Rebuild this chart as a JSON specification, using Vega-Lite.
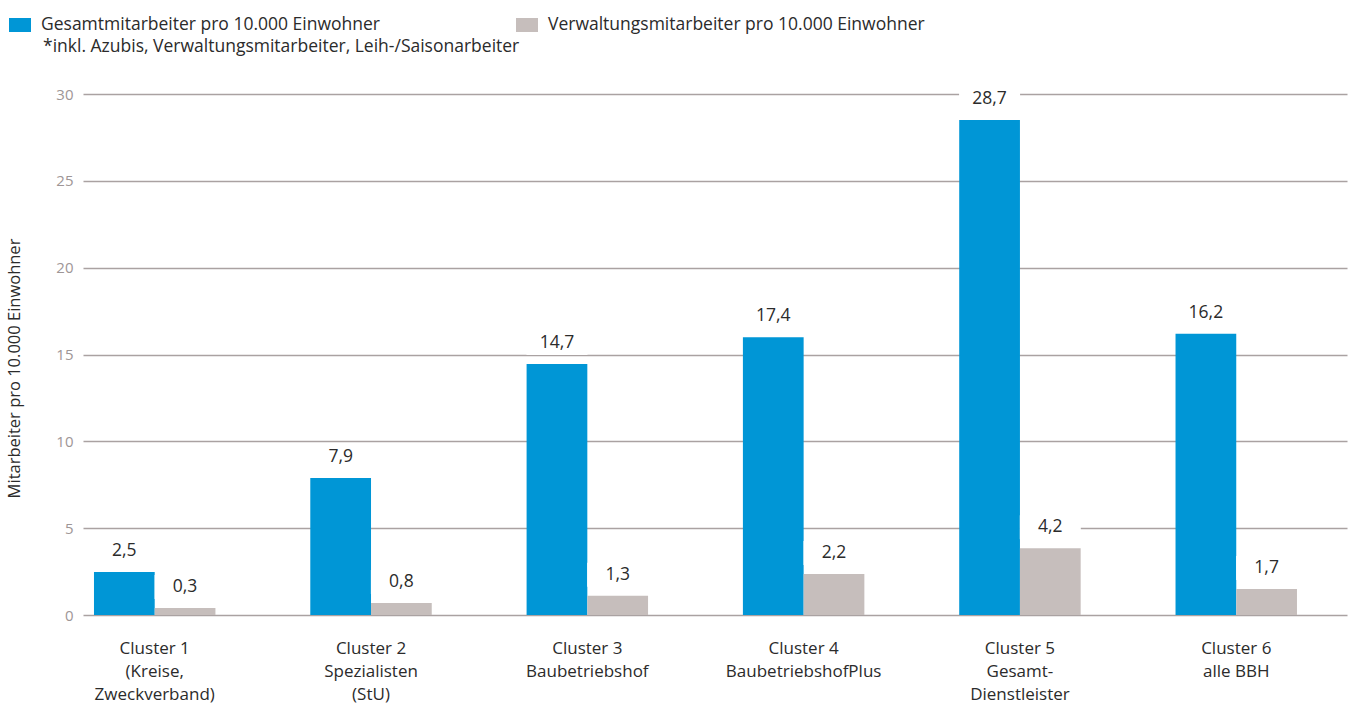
{
  "$schema": "https://vega.github.io/schema/vega-lite/v6.json",
  "width": 1264,
  "height": 521,
  "autosize": "none",
  "padding": {"left": 83, "top": 94, "right": 6, "bottom": 91},
  "background": "white",
  "config": {"font": "Open Sans", "view": {"stroke": null}},
  "title": {
    "text": "*inkl. Azubis, Verwaltungsmitarbeiter, Leih-/Saisonarbeiter",
    "anchor": "start",
    "frame": "group",
    "orient": "top",
    "fontSize": 17.5,
    "fontWeight": "normal",
    "color": "#2b2b2b",
    "dx": -40,
    "offset": -55,
    "baseline": "alphabetic"
  },
  "data": {
    "values": [
      {"cluster": "Cluster 1|(Kreise,|Zweckverband)", "series": "Gesamtmitarbeiter pro 10.000 Einwohner", "value": 2.48, "label": "2,5"},
      {"cluster": "Cluster 1|(Kreise,|Zweckverband)", "series": "Verwaltungsmitarbeiter pro 10.000 Einwohner", "value": 0.4, "label": "0,3"},
      {"cluster": "Cluster 2|Spezialisten|(StU)", "series": "Gesamtmitarbeiter pro 10.000 Einwohner", "value": 7.89, "label": "7,9"},
      {"cluster": "Cluster 2|Spezialisten|(StU)", "series": "Verwaltungsmitarbeiter pro 10.000 Einwohner", "value": 0.69, "label": "0,8"},
      {"cluster": "Cluster 3|Baubetriebshof", "series": "Gesamtmitarbeiter pro 10.000 Einwohner", "value": 14.45, "label": "14,7"},
      {"cluster": "Cluster 3|Baubetriebshof", "series": "Verwaltungsmitarbeiter pro 10.000 Einwohner", "value": 1.11, "label": "1,3"},
      {"cluster": "Cluster 4|BaubetriebshofPlus", "series": "Gesamtmitarbeiter pro 10.000 Einwohner", "value": 16.0, "label": "17,4"},
      {"cluster": "Cluster 4|BaubetriebshofPlus", "series": "Verwaltungsmitarbeiter pro 10.000 Einwohner", "value": 2.36, "label": "2,2"},
      {"cluster": "Cluster 5|Gesamt-|Dienstleister", "series": "Gesamtmitarbeiter pro 10.000 Einwohner", "value": 28.5, "label": "28,7"},
      {"cluster": "Cluster 5|Gesamt-|Dienstleister", "series": "Verwaltungsmitarbeiter pro 10.000 Einwohner", "value": 3.84, "label": "4,2"},
      {"cluster": "Cluster 6|alle BBH", "series": "Gesamtmitarbeiter pro 10.000 Einwohner", "value": 16.2, "label": "16,2"},
      {"cluster": "Cluster 6|alle BBH", "series": "Verwaltungsmitarbeiter pro 10.000 Einwohner", "value": 1.5, "label": "1,7"}
    ]
  },
  "encoding": {
    "x": {
      "field": "cluster",
      "type": "nominal",
      "sort": null,
      "scale": {"paddingInner": 0.4385, "paddingOuter": 0.141, "align": 0.18},
      "axis": {
        "title": null,
        "domain": false,
        "ticks": false,
        "labelAngle": 0,
        "labelExpr": "split(datum.label, '|')",
        "labelFontSize": 17,
        "labelColor": "#2b2b2b",
        "labelPadding": 25,
        "labelLineHeight": 23
      }
    },
    "xOffset": {
      "field": "series",
      "type": "nominal",
      "sort": null,
      "scale": {"paddingInner": 0, "paddingOuter": 0}
    },
    "y": {
      "field": "value",
      "type": "quantitative",
      "scale": {"domain": [0, 30], "nice": false},
      "axis": {
        "title": "Mitarbeiter pro 10.000 Einwohner",
        "titleFontSize": 16.5,
        "titleFontWeight": "normal",
        "titleColor": "#2b2b2b",
        "titlePadding": 33,
        "titleY": 274,
        "values": [0, 5, 10, 15, 20, 25, 30],
        "domain": false,
        "ticks": false,
        "grid": true,
        "gridColor": "#aaa2a2",
        "gridWidth": 1.5,
        "labelColor": "#9e9696",
        "labelFontSize": 15,
        "labelPadding": 10
      }
    }
  },
  "layer": [
    {
      "mark": {"type": "bar"},
      "encoding": {
        "color": {
          "field": "series",
          "type": "nominal",
          "scale": {
            "domain": ["Gesamtmitarbeiter pro 10.000 Einwohner", "Verwaltungsmitarbeiter pro 10.000 Einwohner"],
            "range": ["#0096d6", "#c6bebc"]
          },
          "legend": {
            "orient": "none",
            "legendX": -74,
            "legendY": -80,
            "direction": "horizontal",
            "title": null,
            "symbolType": "M-1,-0.636H1V0.636H-1Z",
            "symbolSize": 484,
            "symbolStrokeWidth": 0,
            "symbolOpacity": 1,
            "labelFontSize": 17.5,
            "labelColor": "#2b2b2b",
            "labelLimit": 1000,
            "labelOffset": 10,
            "gridAlign": "none",
            "columnPadding": 135
          }
        }
      }
    },
    {
      "mark": {"type": "tick", "color": "white", "opacity": 1, "thickness": 24, "size": 61, "yOffset": -21}
    },
    {
      "mark": {"type": "text", "yOffset": -21, "baseline": "middle", "fontSize": 17.5, "color": "#2b2b2b"},
      "encoding": {"text": {"field": "label"}}
    }
  ]
}
